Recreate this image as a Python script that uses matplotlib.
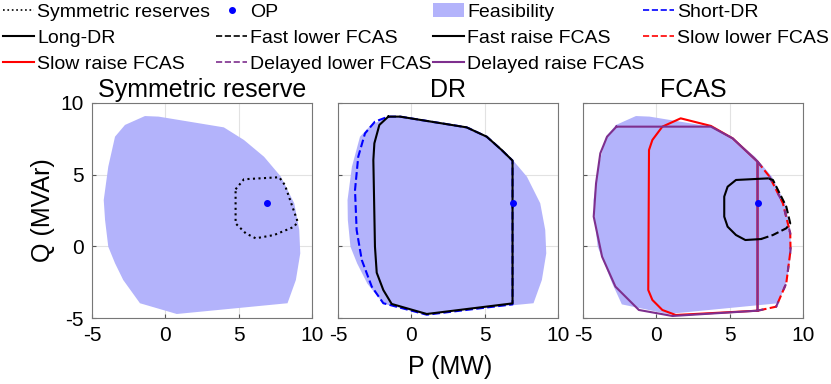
import matplotlib.pyplot as plt
from matplotlib.patches import Patch
from matplotlib.lines import Line2D

plt.rcParams['font.family'] = ['Liberation Sans', 'DejaVu Sans']
plt.rcParams['axes.unicode_minus'] = False

# feasibility region (P in MW, Q in MVAr)
feas_p = [-1.39, -0.46, 3.99, 5.36, 6.73, 7.88, 8.79, 9.13, 9.2, 8.9, 8.33, 0.78, -1.73, -2.87, -3.43, -3.89, -4.11, -4.2, -3.89, -3.43, -2.75]
feas_q = [9.09, 9.05, 8.30, 7.42, 6.25, 4.86, 3.0, 1.14, -0.49, -2.35, -3.97, -4.72, -3.97, -2.35, -1.18, -0.03, 1.84, 3.23, 5.56, 7.65, 8.47]

# the DR panel shows a slightly wider region on the left
feas_dr_p = [-1.39, -0.46, 3.99, 5.36, 6.73, 7.88, 8.79, 9.13, 9.2, 8.9, 8.33, 0.78, -1.9, -3.0, -3.7, -4.15, -4.33, -4.35, -4.05, -3.5, -2.75]
feas_dr_q = [9.09, 9.05, 8.30, 7.42, 6.25, 4.86, 3.0, 1.14, -0.49, -2.35, -3.97, -4.72, -4.0, -2.6, -1.18, -0.03, 1.84, 3.23, 5.56, 7.65, 8.47]

# the FCAS panel shows a slightly wider region at the lower left
feas_fcas_p = [-1.39, -0.46, 3.99, 5.36, 6.73, 7.88, 8.79, 9.13, 9.2, 8.9, 8.33, 0.78, -2.35, -3.0, -3.55, -4.0, -4.2, -4.28, -3.95, -3.43, -2.75]
feas_fcas_q = [9.09, 9.05, 8.30, 7.42, 6.25, 4.86, 3.0, 1.14, -0.49, -2.35, -3.97, -4.72, -4.05, -2.6, -1.18, -0.03, 1.84, 3.23, 5.56, 7.65, 8.47]

op_p = [6.9]
op_q = [3.0]

sym_p = [4.79, 5.36, 7.76, 8.15, 9.02, 8.79, 7.42, 6.16, 5.48, 4.79, 4.79]
sym_q = [3.98, 4.68, 4.82, 4.28, 1.72, 1.37, 0.79, 0.56, 0.91, 1.60, 3.98]

long_dr_p = [-1.57, -0.77, 3.77, 5.14, 6.16, 6.9, 6.9, 1.05, -1.34, -1.91, -2.36, -2.48, -2.59, -2.52, -2.18, -1.57]
long_dr_q = [9.05, 9.05, 8.30, 7.65, 6.72, 5.98, -3.98, -4.72, -4.02, -3.05, -1.84, -0.02, 6.02, 7.19, 8.47, 9.05]

short_dr_p = [-1.57, -0.77, 3.77, 5.14, 6.16, 6.9, 6.9, 1.05, -1.91, -2.70, -3.38, -3.73, -3.84, -3.62, -3.16, -2.48, -1.57]
short_dr_q = [9.05, 9.05, 8.30, 7.65, 6.72, 5.98, -4.05, -4.77, -3.97, -2.81, -0.95, 1.14, 3.93, 6.25, 7.88, 8.70, 9.05]

fast_raise_p = [7.60, 5.43, 4.86, 4.63, 4.63, 4.86, 5.43, 6.07, 7.14]
fast_raise_q = [4.74, 4.63, 4.16, 3.47, 2.07, 1.37, 0.79, 0.44, 0.51]

fast_lower_p = [7.14, 7.95, 8.86, 9.13, 8.86, 7.95, 7.60]
fast_lower_q = [0.51, 0.79, 1.26, 1.60, 2.77, 4.63, 4.74]

slow_raise_p = [6.9, 6.9, 5.21, 3.72, 1.66, 0.41, -0.27, -0.50, -0.55, -0.27, 0.41, 1.32, 6.9]
slow_raise_q = [-4.49, 5.91, 7.53, 8.40, 8.93, 8.35, 7.42, 6.72, -3.05, -3.74, -4.44, -4.79, -4.49]

lower_p = [6.9, 7.72, 8.63, 9.13, 9.15, 8.86, 8.17, 6.9]
lower_q = [5.91, 4.86, 3.0, 0.91, -0.26, -2.58, -4.21, -4.49]

delayed_raise_p = [-2.72, 3.72, 5.21, 6.9, 6.9, 1.10, -1.19, -2.79, -3.70, -4.27, -4.11, -3.82, -3.36, -2.72]
delayed_raise_q = [8.35, 8.35, 7.53, 5.91, -4.49, -4.86, -4.44, -2.81, -0.72, 2.07, 4.40, 6.49, 7.65, 8.35]

ticks = [-5, 0, 5, 10]
titles = ['Symmetric reserve', 'DR', 'FCAS']

fill_c = '#b3b3fb'
purple = '#7e2f8e'
lw = 1.5

fig = plt.figure(figsize=(8.31, 3.84), dpi=100)
W, H = 831, 384
lefts = [92, 338, 583]
regions = [(feas_p, feas_q), (feas_dr_p, feas_dr_q), (feas_fcas_p, feas_fcas_q)]
axes = []
for i, left in enumerate(lefts):
    ax = fig.add_axes([left / W, (H - 318) / H, 220 / W, 215 / H])
    ax.fill(regions[i][0], regions[i][1], color=fill_c, lw=0, zorder=1)
    ax.set_xlim(-5, 10)
    ax.set_ylim(-5, 10)
    ax.set_xticks(ticks)
    ax.set_yticks(ticks)
    ax.grid(True, color='#e2e2e2', lw=0.8, zorder=0)
    ax.set_axisbelow(True)
    ax.tick_params(direction='in', length=3, labelsize=15, color='#555555', pad=6)
    for s in ax.spines.values():
        s.set_color('#777777')
        s.set_linewidth(0.8)
    if i > 0:
        ax.set_yticklabels([])
    ax.set_title(titles[i], fontsize=18, pad=4)
    axes.append(ax)

ax1, ax2, ax3 = axes
ax1.plot(sym_p, sym_q, ':', color='black', lw=lw, zorder=3)
ax1.plot(op_p, op_q, 'o', color='blue', ms=4, zorder=4)

ax2.plot(short_dr_p, short_dr_q, '--', color='blue', lw=lw, zorder=2)
ax2.plot(long_dr_p, long_dr_q, '-', color='black', lw=lw, zorder=3)
ax2.plot(op_p, op_q, 'o', color='blue', ms=4, zorder=4)

ax3.plot(slow_raise_p, slow_raise_q, '-', color='red', lw=lw, zorder=2)
ax3.plot(lower_p, lower_q, '--', color='red', lw=lw, zorder=2)
ax3.plot(lower_p, lower_q, '--', color=purple, lw=lw, zorder=3, dashes=(3, 6))
ax3.plot(delayed_raise_p, delayed_raise_q, '-', color=purple, lw=lw, zorder=3)
ax3.plot(fast_raise_p, fast_raise_q, '-', color='black', lw=lw, zorder=4)
ax3.plot(fast_lower_p, fast_lower_q, '--', color='black', lw=lw, zorder=4)
ax3.plot(op_p, op_q, 'o', color='blue', ms=4, zorder=5)

ax1.set_ylabel('Q (MVAr)', fontsize=18, labelpad=4)
fig.text(450 / W, 1 - 367 / H, 'P (MW)', fontsize=18, ha='center', va='center')

# legend, laid out column by column
h_sym = Line2D([], [], ls=':', color='black', lw=1.2)
h_op = Line2D([], [], ls='', marker='o', color='blue', ms=4)
h_feas = Patch(color=fill_c, lw=0)
h_sdr = Line2D([], [], ls='--', color='blue', lw=1.2)
h_ldr = Line2D([], [], ls='-', color='black', lw=1.5)
h_fl = Line2D([], [], ls='--', color='black', lw=1.2)
h_fr = Line2D([], [], ls='-', color='black', lw=1.5)
h_sl = Line2D([], [], ls='--', color='red', lw=1.2)
h_sr = Line2D([], [], ls='-', color='red', lw=1.5)
h_dl = Line2D([], [], ls='--', color=purple, lw=1.2)
h_dr = Line2D([], [], ls='-', color=purple, lw=1.5)

cols = [
    (2, [h_sym, h_ldr, h_sr], ['Symmetric reserves', 'Long-DR', 'Slow raise FCAS']),
    (215, [h_op, h_fl, h_dl], ['OP', 'Fast lower FCAS', 'Delayed lower FCAS']),
    (432, [h_feas, h_fr, h_dr], ['Feasibility', 'Fast raise FCAS', 'Delayed raise FCAS']),
    (642, [h_sdr, h_sl], ['Short-DR', 'Slow lower FCAS']),
]
for x, hs, ls in cols:
    fig.legend(hs, ls, loc='upper left', bbox_to_anchor=(x / W, 1 - 2 / H), frameon=False,
               fontsize=14, handlelength=1.6, handletextpad=0.15, labelspacing=0.44,
               borderaxespad=0.0, borderpad=0.05)

fig.savefig('out.png', dpi=100)
